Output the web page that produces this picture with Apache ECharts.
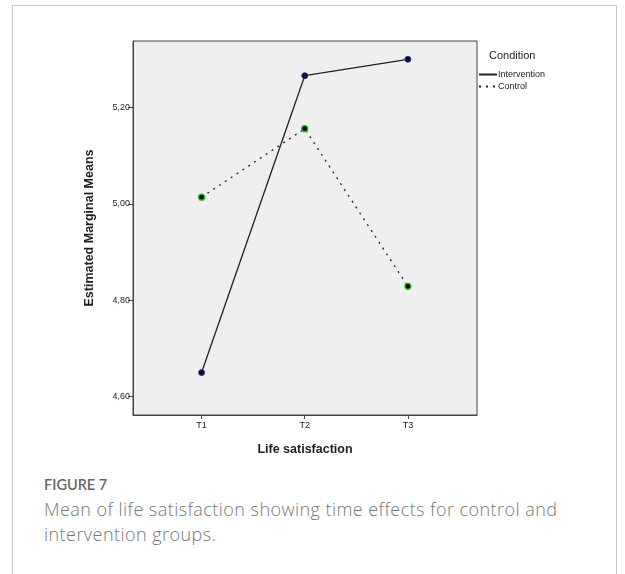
<!DOCTYPE html>
<html>
<head>
<meta charset="utf-8">
<script src="https://cdn.jsdelivr.net/npm/echarts@6/dist/echarts.min.js"></script>
<style>
  html, body { margin: 0; padding: 0; background: #fff; }
  #frame {
    position: absolute; left: 12px; top: 5px; width: 605px; height: 580px;
    border: 1px solid #c8c8c8; box-sizing: border-box;
  }
  #chart { position: absolute; left: 0; top: 0; width: 625px; height: 470px; }
  #cap1 {
    position: absolute; left: 44px; top: 476px;
    font-family: Lato, "Open Sans", sans-serif; font-size: 14.5px; font-weight: 600; color: #666;
  }
  #cap2 {
    position: absolute; left: 44px; top: 497px; width: 575px;
    font-family: "Open Sans", Lato, sans-serif; font-size: 18px; font-weight: 300;
    letter-spacing: 0.45px; color: #777; line-height: 25px;
  }
</style>
</head>
<body>
<div id="frame"></div>
<div id="chart"></div>
<div id="cap1">FIGURE 7</div>
<div id="cap2">Mean of life satisfaction showing time effects for control and<br>intervention groups.</div>
<script>
// time points and group means
var times = ['T1', 'T2', 'T3'];
var intervention = [4.650, 5.266, 5.300];
var control = [5.014, 5.156, 4.829];
var yTicks = [4.6, 4.8, 5.0, 5.2];

var myChart = echarts.init(document.getElementById('chart'));

function pts(vals) {
	return vals.map(function (v, i) { return [i + 1, v]; });
}

var axisFont = { fontFamily: 'Arial, "Liberation Sans", sans-serif', fontSize: 9, color: '#222' };

var option = {
	animation: false,
	grid: {
		left: 133, top: 41, width: 344, height: 374,
		show: true, backgroundColor: '#efefef', borderColor: '#444', borderWidth: 1
	},
	title: {
		text: 'Condition',
		left: 484, top: 45,
		textStyle: { fontFamily: 'Arial, "Liberation Sans", sans-serif', fontSize: 11, fontWeight: 'normal', color: '#222' }
	},
	legend: {
		orient: 'vertical',
		left: 473, top: 65,
		itemWidth: 18, itemHeight: 8, itemGap: 3,
		itemStyle: { opacity: 0 },
		textStyle: { fontFamily: 'Arial, "Liberation Sans", sans-serif', fontSize: 9, color: '#222', padding: [0, 0, 0, -4] },
		data: ['Intervention', 'Control']
	},
	xAxis: {
		type: 'value',
		min: 0.335, max: 3.67,
		name: 'Life satisfaction',
		nameLocation: 'middle', nameGap: 28,
		nameTextStyle: { fontFamily: 'Arial, "Liberation Sans", sans-serif', fontSize: 12.5, fontWeight: 'bold', color: '#222' },
		splitLine: { show: false },
		axisLine: { show: true, lineStyle: { color: '#444' } },
		axisTick: { show: true, length: 4, customValues: [1, 2, 3], lineStyle: { color: '#444' } },
		axisLabel: Object.assign({
			customValues: [1, 2, 3], margin: 6,
			formatter: function (v) { return times[Math.round(v) - 1]; }
		}, axisFont)
	},
	yAxis: {
		type: 'value',
		min: 4.562, max: 5.338,
		name: 'Estimated Marginal Means',
		nameLocation: 'middle', nameGap: 37,
		nameTextStyle: { fontFamily: 'Arial, "Liberation Sans", sans-serif', fontSize: 12.5, fontWeight: 'bold', color: '#222' },
		splitLine: { show: false },
		axisLine: { show: true, lineStyle: { color: '#444' } },
		axisTick: { show: true, length: 5, customValues: yTicks, lineStyle: { color: '#444' } },
		axisLabel: Object.assign({
			customValues: yTicks, margin: 3,
			formatter: function (v) { return v.toFixed(2).replace('.', ','); }
		}, axisFont)
	},
	series: [{
		name: 'Intervention',
		type: 'line',
		data: pts(intervention),
		symbol: 'circle', symbolSize: 6,
		itemStyle: { color: '#0a0a20', borderColor: '#2a3a9a', borderWidth: 1 },
		lineStyle: { color: '#222', width: 1.3, type: 'solid' }
	}, {
		name: 'Control',
		type: 'line',
		data: pts(control),
		symbol: 'circle', symbolSize: 6,
		itemStyle: { color: '#0a0a0a', borderColor: '#22c022', borderWidth: 1.2 },
		lineStyle: { color: '#222', width: 1.3, type: [2, 5] }
	}]
};
myChart.setOption(option);
</script>
</body>
</html>
